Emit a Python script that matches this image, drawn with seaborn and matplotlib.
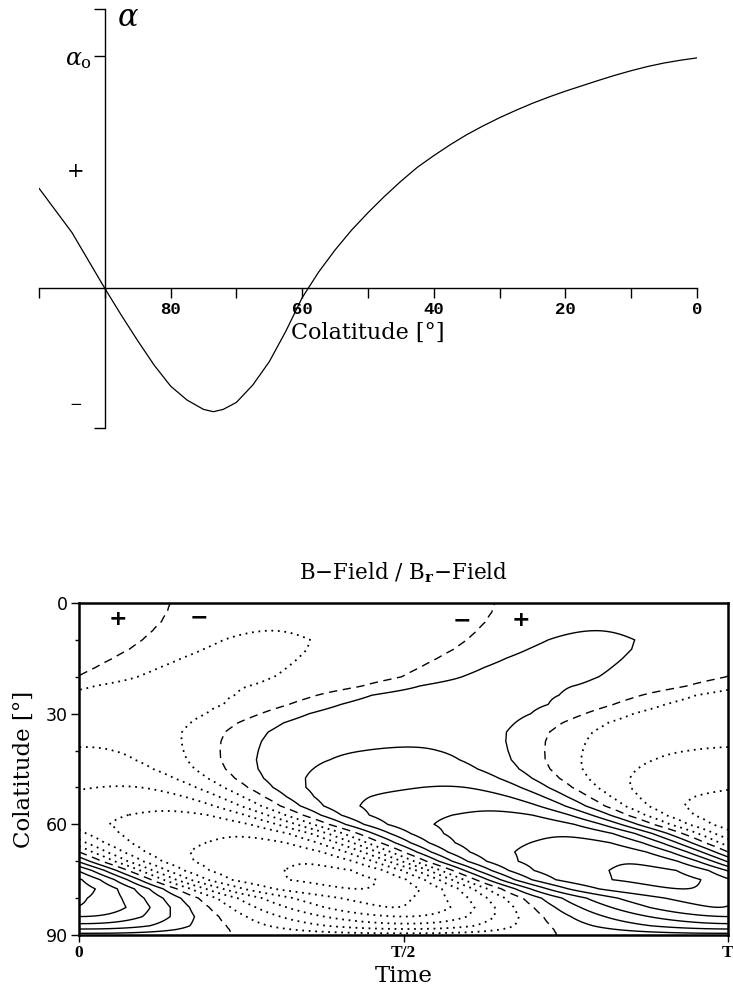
import numpy as np
import matplotlib
matplotlib.use("Agg")
import matplotlib.pyplot as plt
import seaborn as sns
import pandas as pd

# ---------------- data: alpha profile (top panel) ----------------
colat_deg = [100, 97.5, 95, 92.5, 90, 87.5, 85, 82.5, 80, 77.5, 75, 73.5, 72, 70,
             67.5, 65, 62.5, 60, 57.5, 55, 52.5, 50, 47.5, 45, 42.5, 40, 37.5, 35,
             32.5, 30, 27.5, 25, 22.5, 20, 17.5, 15, 12.5, 10, 7.5, 5, 2.5, 0]
alpha_rel = [0.43, 0.335, 0.24, 0.12, 0.0, -0.115, -0.225, -0.33, -0.42, -0.48,
             -0.52, -0.53, -0.52, -0.49, -0.415, -0.315, -0.185, -0.04, 0.07,
             0.165, 0.25, 0.325, 0.395, 0.46, 0.52, 0.57, 0.617, 0.66, 0.698,
             0.733, 0.765, 0.795, 0.822, 0.847, 0.87, 0.893, 0.915, 0.935,
             0.953, 0.968, 0.98, 0.99]
alpha_ticks = [-0.6, 1.0, 1.2]
alpha_ticklabels = ["", r"$\alpha_{\rm o}$", ""]
colat_major = [80, 60, 40, 20, 0]
colat_minor = [100, 90, 70, 50, 30, 10]

# ---------------- data: butterfly diagram (bottom panel) ----------------
# colatitude nodes, peak field level, phase (units of the period T), waveform shape
theta_nodes = [0, 2.5, 5, 7.5, 10, 12.5, 15, 17.5, 20, 22.5, 25, 27.5, 30, 32.5,
               35, 37.5, 40, 42.5, 45, 47.5, 50, 52.5, 55, 57.5, 60, 62.5, 65,
               67.5, 70, 72.5, 75, 77.5, 80, 82.5, 85, 87.5, 88.5, 89.5, 90]
peak_level = [0.3, 0.55, 0.8, 1.0, 1.1, 1.15, 1.2, 1.25, 1.3, 1.35, 1.42, 1.5,
              1.6, 1.7, 1.8, 1.92, 2.05, 2.2, 2.4, 2.7, 3.05, 3.4, 3.8, 4.2,
              4.55, 4.9, 5.25, 5.6, 5.95, 6.2, 6.3, 6.0, 5.3, 5.0, 4.0, 2.7,
              1.9, 1.05, 0.4]
phase_T = [0.885, 0.88, 0.87, 0.855, 0.838, 0.817, 0.79, 0.762, 0.733, 0.672,
           0.605, 0.565, 0.525, 0.493, 0.475, 0.47, 0.47, 0.472, 0.48, 0.495,
           0.515, 0.54, 0.565, 0.60, 0.64, 0.685, 0.72, 0.755, 0.79, 0.83,
           0.865, 0.905, 0.94, 0.96, 0.975, 0.985, 0.988, 0.99, 0.99]
skew_s3 = [-0.05, -0.05, -0.06, -0.07, -0.08, -0.09, -0.10, -0.11, -0.12, -0.12,
           -0.10, -0.07, -0.04, -0.015, 0.0, 0.01, 0.02, 0.03, 0.035, 0.04,
           0.04, 0.04, 0.04, 0.04, 0.04, 0.04, 0.04, 0.04, 0.04, 0.035, 0.03,
           0.03, 0.04, 0.06, 0.06, 0.05, 0.04, 0.03, 0.03]
flat_c3 = [-0.10] * 30 + [-0.09, -0.06, -0.02, 0.0, 0.0, 0.0, 0.0, 0.0, 0.0]
levels_pos = [1, 2, 3, 4, 5, 6]
time_ticks = [0, 0.5, 1.0]
time_ticklabels = ["0", "T/2", "T"]
colat_ticks2 = [0, 30, 60, 90]
colat_minor2 = [10, 20, 40, 50, 70, 80]

# ---------------- style ----------------
sns.set_theme(style="ticks", rc={
    "axes.edgecolor": "black", "xtick.color": "black", "ytick.color": "black",
    "text.color": "black", "axes.labelcolor": "black"})
plt.rcParams["font.family"] = ["DejaVu Sans"]
plt.rcParams["mathtext.fontset"] = "dejavuserif"

W, H = 733, 993
fig = plt.figure(figsize=(W / 100, H / 100), dpi=100)


def box(l, t, r, b):
    return [l / W, 1 - b / H, (r - l) / W, (b - t) / H]


serif = ["DejaVu Serif"]

# ---------------- top panel ----------------
ax1 = fig.add_axes(box(39, 9, 697, 428))
df = pd.DataFrame({"colat": colat_deg, "alpha": alpha_rel})
sns.lineplot(data=df, x="colat", y="alpha", ax=ax1, color="black", lw=0.9,
             sort=False, estimator=None)
ax1.set_xlim(100, 0)
ax1.set_ylim(-0.6, 1.2)
for s in ["top", "right"]:
    ax1.spines[s].set_visible(False)
ax1.spines["left"].set_position(("data", 90))
ax1.spines["bottom"].set_position(("data", 0))
ax1.spines["left"].set_linewidth(1.0)
ax1.spines["bottom"].set_linewidth(1.0)
ax1.set_xticks(colat_major)
ax1.set_xticklabels([str(v) for v in colat_major], fontsize=12.5,
                    family=["Liberation Mono"], fontweight="bold")
ax1.set_xticks(colat_minor, minor=True)
ax1.tick_params(axis="x", which="both", direction="out", length=7, width=1, pad=3)
ax1.set_yticks(alpha_ticks)
ax1.set_yticklabels(alpha_ticklabels, fontsize=17)
ax1.tick_params(axis="y", which="both", direction="out", length=8, width=1, pad=1)
ax1.set_xlabel("")
ax1.set_ylabel("")
ax1.text(50, -0.19, "Colatitude [°]", ha="center", va="center", fontsize=16,
         family=serif)
ax1.text(88.2, 1.165, r"$\alpha$", ha="left", va="center", fontsize=22)
ax1.text(94.4, 0.5, "+", ha="center", va="center", fontsize=15, family=serif)
ax1.text(94.4, -0.5, "−", ha="center", va="center", fontsize=11, family=serif)

# ---------------- bottom panel ----------------
ax2 = fig.add_axes(box(79, 603, 728, 935))
t = np.linspace(0.0, 1.0, 801)
th = np.array(theta_nodes, dtype=float)
P = np.array(peak_level, dtype=float)
ph = np.array(phase_T, dtype=float)
sk = np.array(skew_s3, dtype=float)[:, None]
c3 = np.array(flat_c3, dtype=float)[:, None]
xx = 2 * np.pi * (t[None, :] - ph[:, None])
wave = np.cos(xx) + c3 * np.cos(3 * xx) + sk * np.sin(3 * xx)
xs = np.linspace(-np.pi, np.pi, 4001)[None, :]
fmax = np.max(np.cos(xs) + c3 * np.cos(3 * xs) + sk * np.sin(3 * xs), axis=1)
B = P[:, None] * wave / fmax[:, None]

levels = [-v for v in levels_pos[::-1]] + [0] + levels_pos
styles = [(0, (1, 2.6))] * len(levels_pos) + [(0, (6, 4))] + ["solid"] * len(levels_pos)
widths = [1.3] * len(levels_pos) + [1.0] + [1.0] * len(levels_pos)
ax2.contour(t, th, B, levels=levels, colors="black", linestyles=styles,
            linewidths=widths)
ax2.set_xlim(0, 1)
ax2.set_ylim(90, 0)
for s in ax2.spines.values():
    s.set_linewidth(1.8)
ax2.set_xticks(time_ticks)
ax2.set_xticklabels(time_ticklabels, fontsize=12.5, family=["Liberation Serif"],
                    fontweight="bold")
ax2.set_yticks(colat_ticks2)
ax2.set_yticklabels([str(v) for v in colat_ticks2], fontsize=12.5)
ax2.set_yticks(colat_minor2, minor=True)
ax2.tick_params(axis="y", which="major", direction="out", length=6, width=1, pad=2)
ax2.tick_params(axis="y", which="minor", direction="out", length=3, width=1)
ax2.tick_params(axis="x", which="major", direction="out", length=5, width=1, pad=2)
ax2.set_xlabel("Time", fontsize=16.5, family=serif, labelpad=3)
ax2.set_ylabel("Colatitude [°]", fontsize=16.5, family=serif, labelpad=8)
ax2.set_title(r"B$-$Field / B$_{\mathbf{r}}$$-$Field", fontsize=15.5, family=serif,
              pad=17)
for (tx, ty, s) in [(0.06, 4.3, "+"), (0.185, 3.8, "−"), (0.59, 4.6, "−"),
                    (0.681, 4.6, "+")]:
    ax2.text(tx, ty, s, ha="center", va="center", fontsize=16, fontweight="bold")

fig.savefig("out.png", dpi=100)
